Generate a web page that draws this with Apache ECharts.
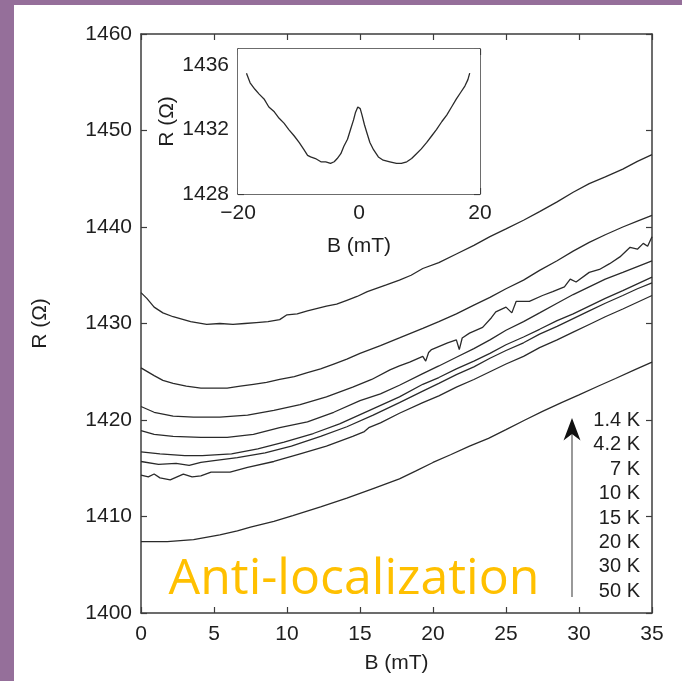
<!DOCTYPE html>
<html>
<head>
<meta charset="utf-8">
<script src="https://cdn.jsdelivr.net/npm/echarts@6/dist/echarts.min.js"></script>
<style>
  html, body { margin: 0; padding: 0; background: #ffffff; }
  #chart { width: 682px; height: 681px; }
</style>
</head>
<body>
<div id="chart"></div>
<script>
// Magnetoresistance R(B) at several temperatures, [B (mT), R (Ohm)]
const r1p4K = [[0,1433.2],[0.4,1432.6],[0.9,1431.7],[1.5,1431.1],[2.2,1430.7],[3.4,1430.2],[4.5,1429.9],[5.4,1430.0],[6.3,1429.9],[7.1,1430.0],[7.9,1430.1],[8.7,1430.2],[9.5,1430.4],[10.0,1430.9],[10.7,1431.0],[11.4,1431.3],[12.7,1431.8],[13.4,1432.0],[14.1,1432.4],[14.8,1432.8],[15.5,1433.3],[16.8,1434.0],[17.7,1434.5],[18.5,1435.0],[19.3,1435.7],[20.4,1436.3],[21.6,1437.2],[22.8,1438.1],[23.9,1439.0],[25.0,1439.8],[26.2,1440.7],[27.3,1441.6],[28.5,1442.6],[29.6,1443.6],[30.7,1444.5],[31.8,1445.2],[33.0,1446.0],[34.0,1446.8],[35.0,1447.5]];
const r4p2K = [[0,1425.4],[0.9,1424.6],[1.5,1424.1],[2.2,1423.8],[3.1,1423.5],[4.1,1423.3],[5.0,1423.3],[5.9,1423.3],[6.8,1423.5],[7.7,1423.7],[8.6,1423.9],[9.5,1424.2],[10.5,1424.5],[11.4,1424.9],[12.3,1425.3],[13.2,1425.8],[14.1,1426.3],[15.0,1426.9],[16.4,1427.7],[17.7,1428.5],[19.3,1429.5],[20.4,1430.2],[21.6,1431.0],[22.8,1431.9],[23.9,1432.7],[25.0,1433.6],[26.2,1434.5],[27.3,1435.5],[28.5,1436.5],[29.6,1437.5],[30.7,1438.4],[31.8,1439.2],[33.0,1440.0],[34.0,1440.6],[35.0,1441.2]];
const r7K = [[0,1421.4],[0.9,1420.8],[2.2,1420.4],[3.6,1420.3],[5.4,1420.3],[7.3,1420.5],[9.1,1421.0],[10.9,1421.6],[12.7,1422.4],[14.5,1423.4],[15.8,1424.2],[17.05,1425.2],[17.7,1425.6],[18.4,1426.0],[19.3,1426.6],[19.5,1426.1],[19.7,1427.0],[19.9,1427.3],[21.0,1428.0],[21.6,1428.3],[21.8,1427.3],[22.0,1428.5],[22.5,1429.0],[23.4,1429.6],[24.0,1430.6],[24.3,1431.2],[25.0,1431.7],[25.4,1431.1],[25.7,1432.3],[26.6,1432.3],[27.5,1432.9],[28.2,1433.3],[29.0,1433.8],[29.4,1434.6],[29.8,1434.3],[30.7,1435.3],[31.4,1435.6],[32.1,1436.2],[32.8,1436.9],[33.5,1437.9],[34.0,1437.7],[34.4,1438.3],[34.7,1438.0],[35.0,1439.0]];
const r10K = [[0,1418.9],[0.9,1418.5],[2.2,1418.3],[4.1,1418.2],[5.9,1418.2],[7.7,1418.5],[9.5,1419.2],[11.4,1419.8],[13.2,1420.8],[15.0,1422.0],[16.4,1422.7],[17.7,1423.6],[19.3,1424.8],[20.4,1425.6],[21.6,1426.5],[22.8,1427.4],[23.9,1428.3],[25.0,1429.3],[26.2,1430.2],[27.3,1431.1],[28.5,1432.1],[29.6,1433.0],[30.7,1433.8],[31.8,1434.6],[33.0,1435.3],[34.0,1435.9],[35.0,1436.5]];
const r15K = [[0,1416.7],[1.3,1416.5],[3.0,1416.3],[4.2,1416.3],[6.2,1416.5],[8.0,1417.0],[9.8,1417.7],[11.8,1418.6],[13.6,1419.6],[15.5,1420.9],[17.7,1422.4],[19.3,1423.7],[20.4,1424.4],[21.6,1425.3],[22.8,1426.1],[23.9,1426.9],[25.0,1427.8],[26.2,1428.6],[27.3,1429.4],[28.5,1430.3],[29.6,1431.0],[30.7,1431.8],[31.8,1432.6],[33.0,1433.4],[34.0,1434.1],[35.0,1434.8]];
const r20K = [[0,1415.7],[1.2,1415.4],[2.4,1415.5],[3.3,1415.3],[4.1,1415.6],[5.0,1415.8],[6.6,1416.1],[8.5,1416.6],[10.3,1417.3],[12.3,1418.3],[14.1,1419.3],[15.9,1420.5],[17.7,1421.8],[19.3,1423.0],[20.4,1423.8],[21.6,1424.7],[22.8,1425.5],[23.9,1426.4],[25.0,1427.2],[26.2,1428.0],[27.3,1428.9],[28.5,1429.7],[29.6,1430.5],[30.7,1431.3],[31.8,1432.1],[33.0,1432.9],[34.0,1433.6],[35.0,1434.2]];
const r30K = [[0,1414.3],[0.5,1414.1],[0.9,1414.4],[1.3,1414.0],[2.0,1413.8],[2.9,1414.4],[3.5,1414.1],[4.1,1414.2],[4.8,1414.6],[6.1,1414.6],[7.3,1415.1],[9.1,1415.7],[10.9,1416.5],[12.7,1417.3],[14.5,1418.3],[15.3,1418.8],[15.6,1419.2],[16.4,1419.7],[17.7,1420.7],[19.3,1421.8],[20.4,1422.5],[21.6,1423.4],[22.8,1424.2],[23.9,1425.0],[25.0,1425.8],[26.2,1426.6],[27.3,1427.5],[28.5,1428.3],[29.6,1429.1],[30.7,1429.9],[31.8,1430.7],[33.0,1431.5],[34.0,1432.2],[35.0,1432.9]];
const r50K = [[0,1407.4],[1.8,1407.4],[3.6,1407.6],[5.4,1408.1],[6.6,1408.5],[7.5,1408.9],[9.1,1409.5],[10.4,1410.1],[12.3,1411.0],[14.1,1411.9],[15.9,1412.9],[17.7,1413.9],[18.8,1414.7],[20.0,1415.6],[21.2,1416.4],[22.5,1417.3],[23.8,1418.1],[25.0,1419.0],[26.3,1420.0],[27.5,1420.9],[28.8,1421.8],[30.0,1422.6],[31.3,1423.5],[32.5,1424.3],[33.8,1425.2],[35.0,1426.0]];

// Low-field sweep shown in the inset, [B (mT), R (Ohm)]
const insetSweep = [[-18.6,1435.5],[-18.3,1435.2],[-18.0,1434.9],[-17.2,1434.5],[-16.5,1434.2],[-15.7,1433.9],[-14.9,1433.4],[-14.0,1433.1],[-13.2,1432.7],[-12.4,1432.4],[-11.6,1432.0],[-10.7,1431.6],[-9.9,1431.2],[-9.1,1430.75],[-8.5,1430.4],[-8.0,1430.3],[-7.2,1430.2],[-6.3,1430.0],[-5.5,1430.0],[-4.7,1429.9],[-4.1,1430.0],[-3.6,1430.2],[-3.0,1430.5],[-2.5,1430.96],[-1.9,1431.4],[-1.4,1432.0],[-0.9,1432.6],[-0.6,1433.04],[-0.2,1433.4],[0,1433.5],[0.2,1433.3],[0.5,1432.9],[0.9,1432.3],[1.3,1431.8],[1.8,1431.2],[2.4,1430.75],[3.2,1430.3],[4.0,1430.1],[5.1,1430.0],[6.2,1429.9],[7.0,1429.9],[7.9,1430.0],[8.7,1430.2],[9.5,1430.5],[10.3,1430.8],[11.2,1431.2],[12.0,1431.6],[12.8,1432.0],[13.7,1432.5],[14.5,1432.9],[15.3,1433.4],[16.1,1433.9],[16.8,1434.3],[17.5,1434.7],[18.0,1435.1],[18.3,1435.5]];

const temperatures = ['1.4 K', '4.2 K', '7 K', '10 K', '15 K', '20 K', '30 K', '50 K'];
const mainCurves = [r1p4K, r4p2K, r7K, r10K, r15K, r20K, r30K, r50K];

const xTicksMain = { min: 0, max: 35, interval: 5 };
const yTicksMain = { min: 1400, max: 1460, interval: 10 };
const xTicksInset = { min: -20, max: 20, interval: 20 };
const yTicksInset = { min: 1428, max: 1437, interval: 4 };

const FONT = '"Liberation Sans", Arial, Helvetica, sans-serif';
const INK = '#1e1e1e';
const FRAME = '#3c3c3c';
const CURVE = '#2a2a2a';

const plainNumber = v => (v < 0 ? '\u2212' + Math.abs(v) : String(v));

function axis(opts, extra) {
  return Object.assign({
    type: 'value',
    min: opts.min, max: opts.max, interval: opts.interval,
    splitLine: { show: false },
    axisLine: { show: true, onZero: false, lineStyle: { color: FRAME, width: 1.5 } },
    axisTick: { show: true, inside: true, length: 6, lineStyle: { color: FRAME, width: 1.2 } },
    axisLabel: { color: INK, fontFamily: FONT, fontSize: 21, margin: 9, formatter: plainNumber },
    nameTextStyle: { color: INK, fontFamily: FONT, fontSize: 21 }
  }, extra);
}

const chart = echarts.init(document.getElementById('chart'), null, { renderer: 'canvas' });

const series = mainCurves.map((d, i) => ({
  name: temperatures[i],
  type: 'line',
  xAxisIndex: 0, yAxisIndex: 0,
  data: d,
  showSymbol: false,
  lineStyle: { color: CURVE, width: 1.3 },
  z: 3
}));
series.push({
  name: 'inset',
  type: 'line',
  xAxisIndex: 2, yAxisIndex: 2,
  data: insetSweep,
  showSymbol: false,
  lineStyle: { color: CURVE, width: 1.3 },
  z: 6
});

// temperature column beside the arrow
const labelElems = temperatures.map((t, i) => ({
  type: 'text',
  x: 640, y: 420.5 + i * 24.4,
  style: { text: t, font: '20px ' + FONT, fill: INK, textAlign: 'right', textVerticalAlign: 'middle' },
  z: 10
}));

chart.setOption({
  animation: false,
  backgroundColor: '#ffffff',
  grid: [
    { left: 141, top: 34, right: 30, bottom: 68, containLabel: false },
    { left: 238, top: 49, width: 242, height: 145, containLabel: false, show: true, backgroundColor: '#ffffff', borderWidth: 0, z: 5 }
  ],
  xAxis: [
    axis(xTicksMain, { gridIndex: 0, position: 'bottom', name: 'B (mT)', nameLocation: 'middle', nameGap: 40,
      axisLabel: { color: INK, fontFamily: FONT, fontSize: 21, margin: 11, formatter: plainNumber } }),
    axis(xTicksMain, { gridIndex: 0, position: 'top', axisLabel: { show: false } }),
    axis(xTicksInset, { gridIndex: 1, position: 'bottom', name: 'B (mT)', nameLocation: 'middle', nameGap: 42 }),
    axis(xTicksInset, { gridIndex: 1, position: 'top', axisLabel: { show: false } })
  ],
  yAxis: [
    axis(yTicksMain, { gridIndex: 0, position: 'left', name: 'R (\u03a9)', nameLocation: 'middle', nameGap: 90 }),
    axis(yTicksMain, { gridIndex: 0, position: 'right', axisLabel: { show: false } }),
    axis(yTicksInset, { gridIndex: 1, position: 'left', name: 'R (\u03a9)', nameLocation: 'middle', nameGap: 60,
      axisLabel: { color: INK, fontFamily: FONT, fontSize: 21, margin: 9, showMaxLabel: false, formatter: plainNumber } }),
    axis(yTicksInset, { gridIndex: 1, position: 'right', axisLabel: { show: false } })
  ],
  series: series,
  graphic: [
    { type: 'rect', shape: { x: 0, y: 0, width: 682, height: 5 }, style: { fill: '#956f9a' }, z: 20 },
    { type: 'rect', shape: { x: 0, y: 0, width: 14, height: 681 }, style: { fill: '#956f9a' }, z: 20 },
    { type: 'line', shape: { x1: 572, y1: 597, x2: 572, y2: 432 }, style: { stroke: '#808080', lineWidth: 1.6 }, z: 10 },
    { type: 'polygon', shape: { points: [[572, 418], [563.5, 440.5], [572, 434], [580.5, 440.5]] }, style: { fill: '#111111' }, z: 10 },
    { type: 'text', x: 354, y: 580,
      style: { text: 'Anti-localization', font: '50px "Open Sans", sans-serif', fill: '#ffc000', textAlign: 'center', textVerticalAlign: 'middle' }, z: 10 }
  ].concat(labelElems)
});
</script>
</body>
</html>
